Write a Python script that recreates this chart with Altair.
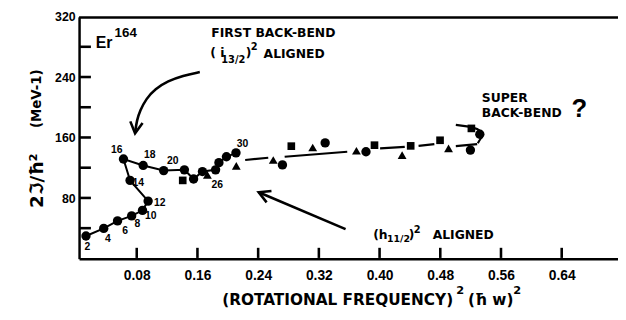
import altair as alt
import pandas as pd

# ---------------- data ----------------
# yrast band (filled circles, joined by a solid line, in spin order)
yrast_x = [0.0131, 0.0365, 0.0547, 0.0733, 0.0876, 0.0950, 0.0712, 0.0625, 0.0885,
           0.1155, 0.1428, 0.1549, 0.1666, 0.1839, 0.1883, 0.1982, 0.2108]
yrast_y = [30.0, 40.1, 50.0, 56.6, 64.0, 76.2, 103.6, 131.9, 123.4,
           116.6, 117.6, 105.4, 115.3, 117.6, 127.1, 134.9, 140.1]
# other circles
circ_x = [0.2720, 0.3283, 0.3821, 0.5197, 0.5321]
circ_y = [124.1, 153.2, 141.5, 143.7, 164.6]
# squares
square_x = [0.1406, 0.2837, 0.3933, 0.4410, 0.4797, 0.5210]
square_y = [103.6, 148.9, 150.2, 149.3, 156.7, 172.4]
# triangles
tri_x = [0.1731, 0.2112, 0.2599, 0.3119, 0.3695, 0.4297, 0.4909]
tri_y = [111.0, 122.8, 130.6, 147.2, 142.8, 137.1, 145.9]
# dashed trend segments
seg_x1 = [0.2229, 0.2749, 0.4007, 0.4514, 0.5005, 0.5005]
seg_x2 = [0.2533, 0.3574, 0.4332, 0.4722, 0.5286, 0.5200]
seg_y1 = [130.6, 134.9, 145.9, 149.3, 148.9, 177.0]
seg_y2 = [133.6, 141.5, 148.0, 151.5, 151.5, 174.4]
# hook at the super back-bend
hook_x = [0.5217, 0.5334, 0.5360, 0.5295]
hook_y = [173.7, 168.5, 160.7, 152.8]
# spin labels
spin_text = ["2", "4", "6", "8", "10", "12", "14", "16", "18", "20", "26", "30"]
spin_x = [0.0148, 0.0421, 0.0647, 0.0807, 0.0986, 0.1103, 0.0820, 0.0538, 0.0973, 0.1276, 0.1861, 0.2195]
spin_y = [15.3, 26.1, 36.2, 45.7, 56.6, 74.1, 100.2, 143.7, 137.1, 129.7, 98.0, 151.5]
# arrows
curve_x = [0.1631, 0.1406, 0.1211, 0.1042, 0.0924, 0.0843, 0.0801, 0.0781]
curve_y = [246.9, 242.3, 235.1, 224.7, 211.6, 195.9, 182.9, 168.5]
straight_x = [0.3552, 0.2407]
straight_y = [39.2, 87.9]
head_x = [0.0778, 0.2407]
head_y = [165.9, 87.9]
head_angle = [97, 203]
# axis ticks and frame
x_ticks = [0.08, 0.16, 0.24, 0.32, 0.40, 0.48, 0.56, 0.64]
y_ticks = [40, 80, 120, 160, 200, 240, 280]
y_labels = [80, 160, 240, 320]
x_min, x_max = 0.004, 0.7142
y_min, y_max = 0, 320
ytick_len = 0.0156   # inward tick length in x units
xtick_len = 14.4     # inward tick length in y units
inset_x = 0.0012     # ticks start just inside the axis line
inset_y = 1.0

# annotations (left aligned)
ann_dv_text = ["FIRST BACK-BEND", "( i", "13/2", ")", "2", "ALIGNED",
               "SUPER", "BACK-BEND", "(h", "11/2", ")", "2", "ALIGNED",
               "(ROTATIONAL FREQUENCY)", "2", "(ħ w)", "2"]
ann_dv_x = [0.1783, 0.1770, 0.1913, 0.2238, 0.2303, 0.2472,
            0.5347, 0.5347, 0.3916, 0.4098, 0.4384, 0.4449, 0.4700,
            0.1926, 0.5009, 0.5165, 0.5763]
ann_dv_y = [299.1, 271.7, 262.5, 271.7, 279.5, 270.4,
            212.9, 192.7, 31.3, 26.1, 31.3, 38.5, 30.7,
            -54.2, -43.1, -54.2, -43.1]
ann_dv_size = [12.5, 12.5, 10, 12.5, 10, 12.5, 12.5, 12.5, 12.5, 9.5, 12.5, 10, 12.5,
               15.5, 11.5, 15.5, 11.5]

ann_ls_text = ["Er", "164", "?"]
ann_ls_x = [0.0261, 0.0508, 0.6530]
ann_ls_y = [284.7, 299.1, 198.5]
ann_ls_size = [16, 13.5, 26]

# rotated y title (centered)
title_text = ["2ℑ/ħ²", "(MeV-1)"]
title_x = [-0.0519, -0.0519]
title_y = [103.2, 211.6]
title_size = [18.5, 13.5]
title_angle = [270, 270]

# ---------------- chart ----------------
W, H = 546, 245
xs = alt.Scale(domain=[x_min, x_max], nice=False, zero=False)
ys = alt.Scale(domain=[y_min, y_max], nice=False, zero=False)
xaxis = alt.Axis(values=x_ticks, format=".2f", title=None, tickSize=0, grid=False,
                 labelPadding=10, labelFontSize=14, labelFont="Liberation Sans",
                 labelFontWeight="bold", labelColor="#000000",
                 domainColor="#000000", domainWidth=2.5)
yaxis = alt.Axis(values=y_labels, format="d", title=None, tickSize=0, grid=False,
                 labelPadding=4, labelFontSize=12.5, labelFont="Liberation Sans",
                 labelFontWeight="bold", labelColor="#000000",
                 domainColor="#000000", domainWidth=2.5)


def X(f):
    return alt.X(f, type="quantitative", scale=xs, axis=xaxis)


def Y(f):
    return alt.Y(f, type="quantitative", scale=ys, axis=yaxis)


df_yr = pd.DataFrame({"x": yrast_x, "y": yrast_y, "i": list(range(len(yrast_x)))})
df_c = pd.DataFrame({"x": circ_x, "y": circ_y})
df_s = pd.DataFrame({"x": square_x, "y": square_y})
df_t = pd.DataFrame({"x": tri_x, "y": tri_y})
df_seg = pd.DataFrame({"x": seg_x1, "x2": seg_x2, "y": seg_y1, "y2": seg_y2})
df_hook = pd.DataFrame({"x": hook_x, "y": hook_y, "i": list(range(len(hook_x)))})
df_spin = pd.DataFrame({"x": spin_x, "y": spin_y, "t": spin_text})
df_curve = pd.DataFrame({"x": curve_x, "y": curve_y, "i": list(range(len(curve_x)))})
df_str = pd.DataFrame({"x": [straight_x[0]], "x2": [straight_x[1]],
                       "y": [straight_y[0]], "y2": [straight_y[1]]})
df_head = pd.DataFrame({"x": head_x, "y": head_y, "a": head_angle})

# top frame line and inward ticks
tick_x1 = [x_min] + list(x_ticks) + [x_min + inset_x] * len(y_ticks)
tick_x2 = [x_max] + list(x_ticks) + [x_min + ytick_len] * len(y_ticks)
tick_y1 = [y_max - 0.9] + [y_min + inset_y] * len(x_ticks) + [v + 0.4 for v in y_ticks]
tick_y2 = [y_max - 0.9] + [y_min + xtick_len] * len(x_ticks) + [v + 0.4 for v in y_ticks]
df_frame = pd.DataFrame({"x": tick_x1, "x2": tick_x2, "y": tick_y1, "y2": tick_y2})

df_dv = pd.DataFrame({"x": ann_dv_x, "y": ann_dv_y, "t": ann_dv_text, "s": ann_dv_size})
df_ls = pd.DataFrame({"x": ann_ls_x, "y": ann_ls_y, "t": ann_ls_text, "s": ann_ls_size})
df_ti = pd.DataFrame({"x": title_x, "y": title_y, "t": title_text, "s": title_size, "a": title_angle})

frame = alt.Chart(df_frame).mark_rule(color="#000000", strokeWidth=2.6).encode(
    x=X("x"), x2="x2", y=Y("y"), y2="y2")

yr_line = alt.Chart(df_yr).mark_line(color="black", strokeWidth=2).encode(
    x=X("x"), y=Y("y"), order="i:Q")
segs = alt.Chart(df_seg).mark_rule(color="black", strokeWidth=2.2).encode(
    x=X("x"), x2="x2", y=Y("y"), y2="y2")
hook = alt.Chart(df_hook).mark_line(color="black", strokeWidth=2.2, interpolate="monotone").encode(
    x=X("x"), y=Y("y"), order="i:Q")
curve = alt.Chart(df_curve).mark_line(color="black", strokeWidth=2.6, interpolate="basis").encode(
    x=X("x"), y=Y("y"), order="i:Q")
straight = alt.Chart(df_str).mark_rule(color="black", strokeWidth=2.6).encode(
    x=X("x"), x2="x2", y=Y("y"), y2="y2")
heads = alt.Chart(df_head).mark_point(
    shape="M-2,-1.1L0,0L-2,1.1", filled=False, color="black", strokeWidth=2.6,
    opacity=1, size=130, strokeJoin="miter").encode(
    x=X("x"), y=Y("y"), angle=alt.Angle("a:Q", scale=None))

yr_pts = alt.Chart(df_yr).mark_point(shape="circle", filled=True, color="black", opacity=1, size=90).encode(
    x=X("x"), y=Y("y"))
c_pts = alt.Chart(df_c).mark_point(shape="circle", filled=True, color="black", opacity=1, size=90).encode(
    x=X("x"), y=Y("y"))
s_pts = alt.Chart(df_s).mark_point(shape="square", filled=True, color="black", opacity=1, size=60).encode(
    x=X("x"), y=Y("y"))
t_pts = alt.Chart(df_t).mark_point(shape="triangle-up", filled=True, color="black", opacity=1, size=80).encode(
    x=X("x"), y=Y("y"))

spin = alt.Chart(df_spin).mark_text(font="Liberation Sans", fontWeight="bold", fontSize=10.5,
                                    align="center", baseline="middle", color="black").encode(
    x=X("x"), y=Y("y"), text="t:N")
ann_dv = alt.Chart(df_dv).mark_text(font="DejaVu Sans", fontWeight="bold", align="left",
                                    baseline="middle", color="black").encode(
    x=X("x"), y=Y("y"), text="t:N", size=alt.Size("s:Q", scale=None))
ann_ls = alt.Chart(df_ls).mark_text(font="Liberation Sans", fontWeight="bold", align="left",
                                    baseline="middle", color="black").encode(
    x=X("x"), y=Y("y"), text="t:N", size=alt.Size("s:Q", scale=None))
titles = alt.Chart(df_ti).mark_text(font="DejaVu Sans", fontWeight="bold", align="center",
                                    baseline="middle", color="black").encode(
    x=X("x"), y=Y("y"), text="t:N", size=alt.Size("s:Q", scale=None),
    angle=alt.Angle("a:Q", scale=None))

chart = alt.layer(
    yr_line, segs, hook, curve, straight, heads, frame,
    yr_pts, c_pts, s_pts, t_pts, spin, ann_dv, ann_ls, titles
).properties(
    width=W, height=H,
    autosize=alt.AutoSizeParams(type="none"),
    padding={"left": 72, "top": 7, "right": 0, "bottom": 50},
    background="white",
).configure_view(stroke=None)

chart.save("out.html", embed_options={"renderer": "svg", "actions": False})
